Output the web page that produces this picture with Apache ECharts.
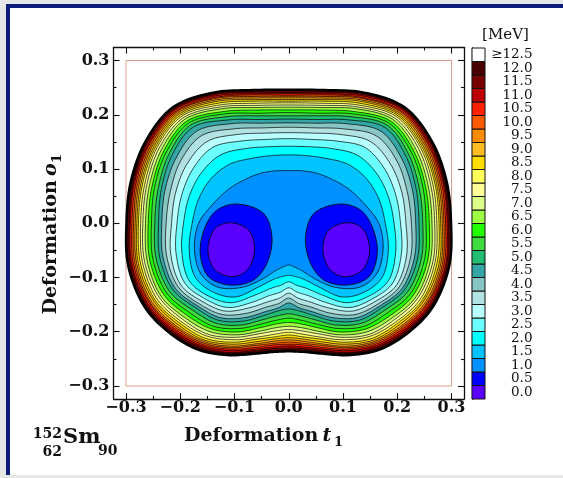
<!DOCTYPE html>
<html><head><meta charset="utf-8">
<script src="https://cdn.jsdelivr.net/npm/echarts@6/dist/echarts.min.js"></script>
<style>
html,body{margin:0;padding:0;background:#e6e6e6;width:563px;height:478px;overflow:hidden;}
#panel{position:absolute;left:6px;top:4px;width:557px;height:471px;background:#fff;border-left:4px solid #0c1a78;border-top:4px solid #0c1a78;box-sizing:border-box;}
#chart{position:absolute;left:0;top:0;width:563px;height:478px;}
</style></head><body><div id="panel"></div><div id="chart"></div>
<script>
// ---- contour levels (MeV) of the ring-shaped contours ----
const ringLevels = [1.5,2.0,2.5,3.0,3.5,4.0,4.5,5.0,5.5,6.0,6.5,7.0,7.5,8.0,8.5,9.0,9.5,10.0,10.5,11.0,11.5,12.0,12.5];
// rays (degrees, from +t1 axis) along which the contour radii were read
const rayAngles = [90,105,120,135,150,165,180,195,210,222,234,245,255,263,270,277,285,295,306,318,330,345,360,375,390,405,420,435];
// radius of each ring contour (same order as ringLevels) along each ray
const rayRadii = [
 [0.097,0.126,0.142,0.156,0.167,0.177,0.185,0.192,0.198,0.204,0.209,0.214,0.218,0.222,0.225,0.228,0.231,0.234,0.236,0.239,0.241,0.244,0.246],
 [0.100,0.129,0.146,0.160,0.172,0.182,0.191,0.198,0.205,0.210,0.216,0.221,0.225,0.229,0.233,0.236,0.239,0.242,0.245,0.247,0.250,0.252,0.254],
 [0.106,0.138,0.159,0.175,0.189,0.201,0.212,0.220,0.227,0.233,0.238,0.244,0.248,0.252,0.256,0.260,0.263,0.266,0.268,0.271,0.274,0.276,0.278],
 [0.114,0.154,0.178,0.198,0.213,0.228,0.240,0.250,0.256,0.261,0.266,0.271,0.275,0.279,0.282,0.285,0.288,0.291,0.293,0.296,0.298,0.300,0.302],
 [0.127,0.165,0.186,0.203,0.217,0.230,0.240,0.249,0.255,0.261,0.266,0.271,0.276,0.280,0.283,0.286,0.289,0.292,0.295,0.297,0.300,0.302,0.304],
 [0.143,0.172,0.190,0.204,0.216,0.226,0.236,0.243,0.249,0.256,0.261,0.266,0.271,0.275,0.279,0.282,0.285,0.288,0.291,0.294,0.296,0.298,0.301],
 [0.166,0.178,0.194,0.206,0.216,0.226,0.234,0.240,0.247,0.253,0.259,0.264,0.269,0.273,0.277,0.280,0.283,0.286,0.289,0.292,0.294,0.297,0.299],
 [0.180,0.190,0.204,0.215,0.225,0.233,0.240,0.246,0.253,0.259,0.265,0.270,0.275,0.279,0.283,0.287,0.290,0.293,0.296,0.299,0.301,0.304,0.306],
 [0.187,0.199,0.212,0.221,0.229,0.235,0.241,0.246,0.253,0.259,0.265,0.271,0.275,0.280,0.284,0.287,0.291,0.294,0.296,0.299,0.302,0.304,0.307],
 [0.176,0.189,0.200,0.208,0.215,0.222,0.227,0.232,0.239,0.246,0.253,0.259,0.264,0.269,0.273,0.277,0.281,0.284,0.287,0.290,0.293,0.296,0.299],
 [0.146,0.168,0.181,0.192,0.200,0.208,0.215,0.221,0.228,0.235,0.241,0.247,0.253,0.257,0.262,0.266,0.269,0.272,0.275,0.278,0.281,0.284,0.287],
 [0.113,0.129,0.146,0.161,0.172,0.183,0.192,0.199,0.207,0.214,0.221,0.227,0.232,0.237,0.242,0.246,0.250,0.253,0.256,0.259,0.263,0.265,0.268],
 [0.090,0.107,0.124,0.138,0.150,0.160,0.169,0.176,0.184,0.192,0.199,0.206,0.211,0.217,0.221,0.226,0.230,0.233,0.237,0.240,0.243,0.246,0.249],
 [0.081,0.099,0.115,0.128,0.139,0.149,0.157,0.163,0.172,0.180,0.187,0.194,0.200,0.206,0.211,0.215,0.219,0.223,0.226,0.230,0.233,0.236,0.239],
 [0.077,0.096,0.108,0.119,0.129,0.138,0.147,0.158,0.167,0.175,0.183,0.190,0.196,0.201,0.206,0.211,0.215,0.219,0.223,0.226,0.230,0.233,0.236],
 [0.081,0.099,0.115,0.128,0.139,0.149,0.157,0.163,0.172,0.180,0.187,0.194,0.200,0.206,0.211,0.215,0.219,0.223,0.226,0.230,0.233,0.236,0.239],
 [0.090,0.107,0.124,0.138,0.150,0.160,0.169,0.176,0.184,0.192,0.199,0.206,0.211,0.217,0.221,0.226,0.230,0.233,0.237,0.240,0.243,0.246,0.249],
 [0.113,0.129,0.146,0.161,0.172,0.183,0.192,0.199,0.207,0.214,0.221,0.227,0.232,0.237,0.242,0.246,0.250,0.253,0.256,0.259,0.263,0.265,0.268],
 [0.146,0.168,0.181,0.192,0.200,0.208,0.215,0.221,0.228,0.235,0.241,0.247,0.253,0.257,0.262,0.266,0.269,0.272,0.275,0.278,0.281,0.284,0.287],
 [0.176,0.189,0.200,0.208,0.215,0.222,0.227,0.232,0.239,0.246,0.253,0.259,0.264,0.269,0.273,0.277,0.281,0.284,0.287,0.290,0.293,0.296,0.299],
 [0.187,0.199,0.212,0.221,0.229,0.235,0.241,0.246,0.253,0.259,0.265,0.271,0.275,0.280,0.284,0.287,0.291,0.294,0.296,0.299,0.302,0.304,0.307],
 [0.180,0.190,0.204,0.215,0.225,0.233,0.240,0.246,0.253,0.259,0.265,0.270,0.275,0.279,0.283,0.287,0.290,0.293,0.296,0.299,0.301,0.304,0.306],
 [0.166,0.178,0.194,0.206,0.216,0.226,0.234,0.240,0.247,0.253,0.259,0.264,0.269,0.273,0.277,0.280,0.283,0.286,0.289,0.292,0.294,0.297,0.299],
 [0.143,0.172,0.190,0.204,0.216,0.226,0.236,0.243,0.249,0.256,0.261,0.266,0.271,0.275,0.279,0.282,0.285,0.288,0.291,0.294,0.296,0.298,0.301],
 [0.127,0.165,0.186,0.203,0.217,0.230,0.240,0.249,0.255,0.261,0.266,0.271,0.276,0.280,0.283,0.286,0.289,0.292,0.295,0.297,0.300,0.302,0.304],
 [0.114,0.154,0.178,0.198,0.213,0.228,0.240,0.250,0.256,0.261,0.266,0.271,0.275,0.279,0.282,0.285,0.288,0.291,0.293,0.296,0.298,0.300,0.302],
 [0.106,0.138,0.159,0.175,0.189,0.201,0.212,0.220,0.227,0.233,0.238,0.244,0.248,0.252,0.256,0.260,0.263,0.266,0.268,0.271,0.274,0.276,0.278],
 [0.100,0.129,0.146,0.160,0.172,0.182,0.191,0.198,0.205,0.210,0.216,0.221,0.225,0.229,0.233,0.236,0.239,0.242,0.245,0.247,0.250,0.252,0.254]
];
// the two minima: 1.0 MeV and 0.5 MeV contours, points [t1, o1]
const leftWell10  = [[-0.0955,0.0354],[-0.0465,0.0182],[-0.031,-0.0249],[-0.0402,-0.0739],[-0.0649,-0.1047],[-0.1078,-0.1139],[-0.1478,-0.0986],[-0.1631,-0.0555],[-0.1539,-0.0065],[-0.1323,0.0243]];
const rightWell10 = [[0.0955,0.0354],[0.1323,0.0243],[0.1539,-0.0065],[0.1631,-0.0555],[0.1478,-0.0986],[0.1078,-0.1139],[0.0649,-0.1047],[0.0402,-0.0739],[0.031,-0.0249],[0.0465,0.0182]];
const leftWell05  = [[-0.1078,0.001],[-0.074,-0.0125],[-0.063,-0.046],[-0.074,-0.083],[-0.1018,-0.0986],[-0.1355,-0.0863],[-0.149,-0.049],[-0.1355,-0.0094]];
const rightWell05 = [[0.1078,0.001],[0.1355,-0.0094],[0.149,-0.049],[0.1355,-0.0863],[0.1018,-0.0986],[0.074,-0.083],[0.063,-0.046],[0.074,-0.0125]];
// colour bar: bands from 0.0 upwards
const bandLabels = ['0.0','0.5','1.0','1.5','2.0','2.5','3.0','3.5','4.0','4.5','5.0','5.5','6.0','6.5','7.0','7.5','8.0','8.5','9.0','9.5','10.0','10.5','11.0','11.5','12.0','\u226512.5'];
const bandColors = ['#5a00ff','#0000ff','#0090ff','#00c3ff','#00ffff','#6cffff','#b9ffff','#b3e2e2','#88c6c6','#35a6a6','#22bc72','#3fdc3f','#22ff00','#9cff44','#dcff88','#ffff99','#ffff5a','#ffdd00','#ffbb22','#ff8c00','#ff5a00','#ff2200','#bd0000','#780000','#4a0000','#ffffff'];
// axes
const xTicks = [-0.3,-0.2,-0.1,0.0,0.1,0.2,0.3];
const xMinorTicks = [-0.25,-0.15,-0.05,0.05,0.15,0.25];
const yTicks = [-0.3,-0.2,-0.1,0.0,0.1,0.2,0.3];
const yMinorTicks = [-0.25,-0.15,-0.05,0.05,0.15,0.25];
const frameBox = [[-0.3,-0.3],[0.3,-0.3],[0.3,0.3],[-0.3,0.3],[-0.3,-0.3]];

// ---- build polygons (data coordinates) ----
const polys = [];
for (let k = ringLevels.length - 1; k >= 0; k--) {
  const pts = rayAngles.map((a, j) => {
    const th = a * Math.PI / 180, r = rayRadii[j][k];
    return [r * Math.cos(th), r * Math.sin(th)];
  });
  polys.push({pts: pts, fill: bandColors[k + 2], lw: k === ringLevels.length - 1 ? 2.6 : 0.7});
}
[leftWell10, rightWell10].forEach(p => polys.push({pts: p, fill: bandColors[1], lw: 0.8}));
[leftWell05, rightWell05].forEach(p => polys.push({pts: p, fill: bandColors[0], lw: 0.8}));

// closed centripetal Catmull-Rom through pixel points (curve drawing only)
function smoothLoop(P, n) {
  const N = P.length, out = [];
  const d = (a, b) => Math.pow(Math.hypot(b[0] - a[0], b[1] - a[1]) || 1e-6, 0.5);
  for (let i = 0; i < N; i++) {
    const p0 = P[(i - 1 + N) % N], p1 = P[i], p2 = P[(i + 1) % N], p3 = P[(i + 2) % N];
    const t0 = 0, t1 = t0 + d(p0, p1), t2 = t1 + d(p1, p2), t3 = t2 + d(p2, p3);
    for (let s = 0; s < n; s++) {
      const t = t1 + (t2 - t1) * s / n;
      const L = (pa, pb, ta, tb) => [
        (tb - t) / (tb - ta) * pa[0] + (t - ta) / (tb - ta) * pb[0],
        (tb - t) / (tb - ta) * pa[1] + (t - ta) / (tb - ta) * pb[1]];
      const A1 = L(p0, p1, t0, t1), A2 = L(p1, p2, t1, t2), A3 = L(p2, p3, t2, t3);
      const B1 = L(A1, A2, t0, t2), B2 = L(A2, A3, t1, t3);
      out.push(L(B1, B2, t1, t2));
    }
  }
  return out;
}

const SERIF = '"DejaVu Serif", serif';
const fmt = v => { const r = Math.round(v * 10) / 10; return (r < 0 ? '\u2212' : '') + Math.abs(r).toFixed(1); };
const XR = 0.323, YR = 0.324;
function ax(type, pos, ticks, len, labels, line) {
  return {
    type: 'value', gridIndex: 0, position: pos, min: -(type === 'x' ? XR : YR), max: (type === 'x' ? XR : YR),
    axisLine: {show: line, onZero: false, lineStyle: {color: '#111', width: 1.3}},
    axisTick: {show: true, inside: true, length: len, customValues: ticks, lineStyle: {color: '#111', width: 1.1}},
    axisLabel: {show: labels, customValues: ticks, formatter: fmt, fontFamily: SERIF, fontWeight: 'bold', fontSize: 16, color: '#111', margin: type === 'x' ? 1 : 4},
    splitLine: {show: false}, minorTick: {show: false}
  };
}
const chart = echarts.init(document.getElementById('chart'), null, {renderer: 'canvas'});
const txt = (x, y, text, font, align) => ({type: 'text', x: x, y: y, silent: true,
  style: {text: text, font: font, fill: '#111', align: align || 'left', verticalAlign: 'middle', textAlign: align || 'left', textVerticalAlign: 'middle'}});

chart.setOption({
  animation: false,
  backgroundColor: 'transparent',
  grid: [
    {left: 113.5, top: 47.5, width: 350.5, height: 351.5},
    {left: 472, top: 48, width: 13, height: 351}
  ],
  xAxis: [
    ax('x', 'bottom', xTicks, 6, true, true),
    ax('x', 'bottom', xMinorTicks, 3, false, false),
    ax('x', 'top', xTicks, 6, false, true),
    ax('x', 'top', xMinorTicks, 3, false, false),
    {type: 'value', gridIndex: 1, min: 0, max: 1, show: false}
  ],
  yAxis: [
    ax('y', 'left', yTicks, 6, true, true),
    ax('y', 'left', yMinorTicks, 3, false, false),
    ax('y', 'right', yTicks, 6, false, true),
    ax('y', 'right', yMinorTicks, 3, false, false),
    {type: 'category', gridIndex: 1, data: bandLabels, position: 'right', offset: 50.5,
     axisLine: {show: true, lineStyle: {color: '#111', width: 1.3}}, axisTick: {show: false},
     axisLabel: {inside: true, interval: 0, margin: 3, fontFamily: SERIF, fontSize: 13.5, color: '#111'},
     splitLine: {show: false}}
  ],
  series: [
    {type: 'line', xAxisIndex: 0, yAxisIndex: 0, data: frameBox, showSymbol: false, silent: true, z: 1,
     lineStyle: {color: '#d9a08a', width: 1}},
    {type: 'custom', xAxisIndex: 0, yAxisIndex: 0, z: 2, silent: true,
     data: polys.map((p, i) => [0, 0, i]), encode: {x: 0, y: 1},
     renderItem: function (params, api) {
       const p = polys[api.value(2)];
       const px = smoothLoop(p.pts.map(q => api.coord(q)), 10);
       return {type: 'polygon', shape: {points: px},
               style: {fill: p.fill, stroke: '#000', lineWidth: p.lw}};
     }},
    {type: 'custom', xAxisIndex: 4, yAxisIndex: 4, silent: true,
     data: bandColors.map((c, i) => [0, i]), encode: {x: 0, y: 1},
     renderItem: function (params, api) {
       const i = api.value(1);
       const c = api.coord([0, i]);
       const s = api.size([1, 1]);
       return {type: 'rect', shape: {x: c[0], y: c[1] - s[1] / 2, width: s[0], height: s[1]},
               style: {fill: bandColors[i], stroke: '#111', lineWidth: 1}};
     }}
  ],
  graphic: [
    txt(505.5, 35, '[MeV]', '15px ' + SERIF, 'center'),
    txt(184, 436.5, 'Deformation', 'bold 19px ' + SERIF),
    txt(322.5, 436.5, 't', 'italic bold 19px ' + SERIF),
    txt(334, 443, '1', 'bold 13px ' + SERIF),
    {type: 'group', x: 51, y: 234, rotation: Math.PI / 2, children: [
      txt(-80.5, 0, 'Deformation', 'bold 19px ' + SERIF),
      txt(58, 0, 'o', 'italic bold 19px ' + SERIF),
      txt(71, 6.5, '1', 'bold 13px ' + SERIF)
    ]},
    txt(62, 434, '152', 'bold 14px ' + SERIF, 'right'),
    txt(62, 452, '62', 'bold 14px ' + SERIF, 'right'),
    txt(63, 438, 'Sm', 'bold 21px ' + SERIF),
    txt(98, 451.5, '90', 'bold 14px ' + SERIF)
  ]
});
</script></body></html>
